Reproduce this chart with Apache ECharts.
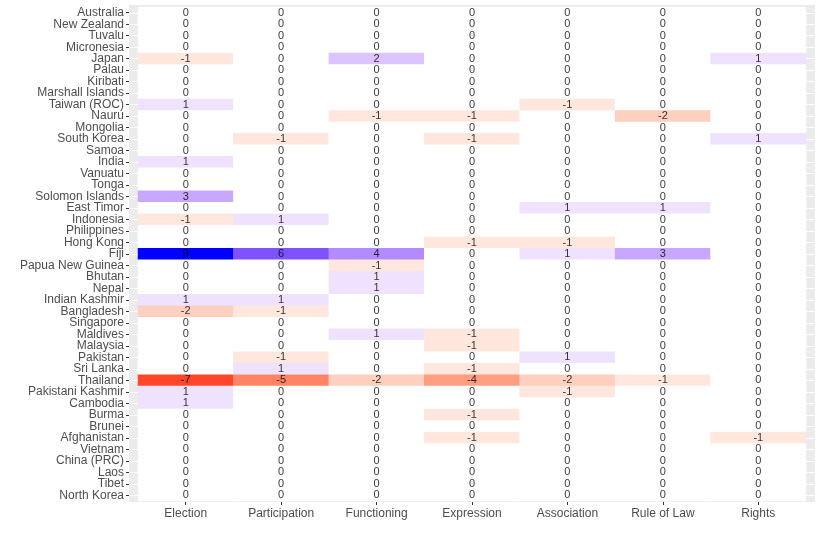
<!DOCTYPE html>
<html>
<head>
<meta charset="utf-8">
<script src="https://cdn.jsdelivr.net/npm/echarts@6/dist/echarts.min.js"></script>
<style>html,body{margin:0;padding:0;background:#fff;}#c{width:822px;height:536px;}</style>
</head>
<body>
<div id="c"></div>
<script>
const countries = ["Australia","New Zealand","Tuvalu","Micronesia","Japan","Palau","Kiribati","Marshall Islands","Taiwan (ROC)","Nauru","Mongolia","South Korea","Samoa","India","Vanuatu","Tonga","Solomon Islands","East Timor","Indonesia","Philippines","Hong Kong","Fiji","Papua New Guinea","Bhutan","Nepal","Indian Kashmir","Bangladesh","Singapore","Maldives","Malaysia","Pakistan","Sri Lanka","Thailand","Pakistani Kashmir","Cambodia","Burma","Brunei","Afghanistan","Vietnam","China (PRC)","Laos","Tibet","North Korea"];
const dimensions = ["Election","Participation","Functioning","Expression","Association","Rule of Law","Rights"];

const election      = [0,0,0,0,-1, 0,0,0,1,0, 0,0,0,1,0, 0,3,0,-1,0, 0,9,0,0,0, 1,-2,0,0,0, 0,0,-7,1,1, 0,0,0,0,0, 0,0,0];
const participation = [0,0,0,0,0, 0,0,0,0,0, 0,-1,0,0,0, 0,0,0,1,0, 0,6,0,0,0, 1,-1,0,0,0, -1,1,-5,0,0, 0,0,0,0,0, 0,0,0];
const functioning   = [0,0,0,0,2, 0,0,0,0,-1, 0,0,0,0,0, 0,0,0,0,0, 0,4,-1,1,1, 0,0,0,1,0, 0,0,-2,0,0, 0,0,0,0,0, 0,0,0];
const expression    = [0,0,0,0,0, 0,0,0,0,-1, 0,-1,0,0,0, 0,0,0,0,0, -1,0,0,0,0, 0,0,0,-1,-1, 0,-1,-4,0,0, -1,0,-1,0,0, 0,0,0];
const association   = [0,0,0,0,0, 0,0,0,-1,0, 0,0,0,0,0, 0,0,1,0,0, -1,1,0,0,0, 0,0,0,0,0, 1,0,-2,-1,0, 0,0,0,0,0, 0,0,0];
const ruleOfLaw     = [0,0,0,0,0, 0,0,0,0,-2, 0,0,0,0,0, 0,0,1,0,0, 0,3,0,0,0, 0,0,0,0,0, 0,0,-1,0,0, 0,0,0,0,0, 0,0,0];
const rights        = [0,0,0,0,1, 0,0,0,0,0, 0,1,0,0,0, 0,0,0,0,0, 0,0,0,0,0, 0,0,0,0,0, 0,0,0,0,0, 0,0,-1,0,0, 0,0,0];

const columns = [election, participation, functioning, expression, association, ruleOfLaw, rights];
const data = [];
columns.forEach((col, xi) => col.forEach((v, yi) => data.push([xi, yi, v])));

function labToHex(L, a, b) {
  const fy = (L + 16) / 116, fx = fy + a / 500, fz = fy - b / 200;
  const f = t => (t * t * t > 0.008856 ? t * t * t : (t - 16 / 116) / 7.787);
  const X = 0.95047 * f(fx), Y = f(fy), Z = 1.08883 * f(fz);
  let r = 3.2406 * X - 1.5372 * Y - 0.4986 * Z;
  let g = -0.9689 * X + 1.8758 * Y + 0.0415 * Z;
  let bl = 0.0557 * X - 0.2040 * Y + 1.0570 * Z;
  const gm = c => { c = c <= 0.0031308 ? 12.92 * c : 1.055 * Math.pow(c, 1 / 2.4) - 0.055; return Math.round(Math.max(0, Math.min(1, c)) * 255); };
  return 'rgb(' + gm(r) + ',' + gm(g) + ',' + gm(bl) + ')';
}
const labRed = [53.24, 80.09, 67.20], labWhite = [100, 0, 0], labBlue = [32.30, 79.19, -107.86];
const colorSpan = 8;
const colorStops = [];
for (let v = -9; v <= 9; v++) {
  const t = Math.min(1, Math.abs(v) / colorSpan), end = v < 0 ? labRed : labBlue;
  colorStops.push(labToHex(
    labWhite[0] + (end[0] - labWhite[0]) * t,
    labWhite[1] + (end[1] - labWhite[1]) * t,
    labWhite[2] + (end[2] - labWhite[2]) * t));
}

const FONT = 'Liberation Sans, Arial, sans-serif';
const chart = echarts.init(document.getElementById('c'), null, { renderer: 'canvas' });
chart.setOption({
  animation: false,
  backgroundColor: '#ffffff',
  graphic: [{
    type: 'rect', z: -10, silent: true,
    shape: { x: 129, y: 5, width: 686, height: 497 },
    style: { fill: '#EBEBEB' }
  }],
  grid: [
    { left: 138, right: 16, top: 7, bottom: 35 },
    { left: 129, right: 7, top: 12.75, bottom: 40.75 }
  ],
  xAxis: [{
    gridIndex: 0, type: 'category', data: dimensions, position: 'bottom', offset: 1,
    axisLine: { show: false },
    axisTick: { show: true, length: 3, alignWithLabel: true, lineStyle: { color: '#333333' } },
    axisLabel: { color: '#4D4D4D', fontSize: 12, fontFamily: FONT, margin: 6 },
    splitLine: { show: false }
  }, {
    gridIndex: 1, type: 'value', show: false
  }],
  yAxis: [{
    gridIndex: 0, type: 'category', data: countries, inverse: true, offset: 9,
    axisLine: { show: false },
    axisTick: { show: true, length: 3, alignWithLabel: true, interval: 0, lineStyle: { color: '#333333' } },
    axisLabel: { color: '#4D4D4D', fontSize: 12, fontFamily: FONT, margin: 5, interval: 0 },
    splitLine: { show: false }
  }, {
    gridIndex: 1, type: 'category', data: countries, inverse: true, boundaryGap: false,
    axisLine: { show: false }, axisTick: { show: false }, axisLabel: { show: false },
    splitLine: { show: true, interval: 0, lineStyle: { color: '#FFFFFF', width: 1 } }
  }],
  visualMap: {
    type: 'continuous', show: false, min: -9, max: 9, dimension: 2,
    inRange: { color: colorStops }, seriesIndex: 0
  },
  series: [{
    type: 'heatmap', xAxisIndex: 0, yAxisIndex: 0, data: data,
    label: { show: false },
    emphasis: { disabled: true },
    itemStyle: { borderWidth: 0 }
  }, {
    type: 'scatter', xAxisIndex: 0, yAxisIndex: 0, data: data, z: 5,
    symbol: 'rect', symbolSize: 1,
    itemStyle: { color: 'rgba(0,0,0,0)' },
    silent: true,
    emphasis: { disabled: true },
    label: {
      show: true, position: [0.5, 0.5], align: 'center', verticalAlign: 'middle',
      color: '#000000', fontSize: 11, fontFamily: FONT,
      textBorderWidth: 0,
      formatter: p => String(p.value[2])
    }
  }]
});
</script>
</body>
</html>
